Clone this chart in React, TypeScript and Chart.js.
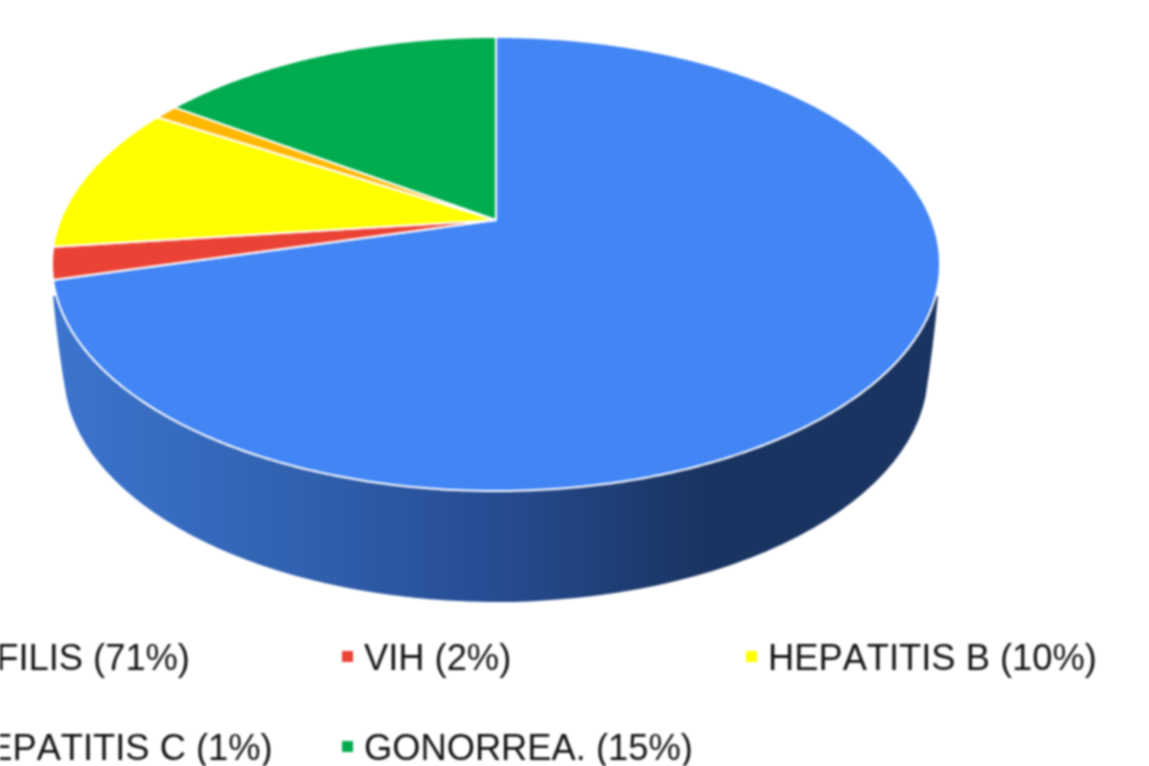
import React, { useEffect, useRef } from "react";
import { Chart, registerables } from "chart.js";

Chart.register(...registerables);

const categories = ["SÍFILIS (71%)", "VIH (2%)", "HEPATITIS B (10%)", "HEPATITIS C (1%)", "GONORREA. (15%)"];
const shares = [70.8, 2.3, 10.55, 1.05, 15.3];
const colors = ["#4285F4", "#EA4335", "#FFFF00", "#FFB700", "#00AC4E"];

const APEX_X = 496;
const APEX_Y = 220;
const SCALE_X = 435.6;
const SCALE_Y = 218.5;
const TILT = -0.1938;

const project = (a: number): [number, number] => {
  const u = Math.cos(a);
  const v = Math.sin(a);
  const d = 1 + TILT * v;
  return [APEX_X + (SCALE_X * u) / d, APEX_Y + (SCALE_Y * v) / d];
};

const tiltedPie = {
  id: "tiltedPie",
  beforeDatasetDraw() {
    return false;
  },
  afterDatasetsDraw(chart: any) {
    const ctx = chart.ctx as CanvasRenderingContext2D;
    ctx.save();

    // side wall
    const grad = ctx.createLinearGradient(60, 0, 930, 0);
    grad.addColorStop(0, "#3C74CE");
    grad.addColorStop(0.25, "#3263B2");
    grad.addColorStop(0.5, "#264C92");
    grad.addColorStop(0.74, "#1A3461");
    grad.addColorStop(1, "#1A3461");
    const lean = 0.11;
    ctx.beginPath();
    ctx.moveTo(938, 296);
    ctx.quadraticCurveTo(933, 350, 496 + 432 * Math.cos(lean), 372 + 230 * Math.sin(lean));
    ctx.ellipse(496, 372, 432, 230, 0, lean, Math.PI - lean);
    ctx.quadraticCurveTo(58, 350, 53, 296);
    ctx.closePath();
    ctx.fillStyle = grad;
    ctx.fill();

    // top face
    const arcs = chart.getDatasetMeta(0).data;
    arcs.forEach((arc: any, i: number) => {
      const start = arc.startAngle as number;
      const end = arc.endAngle as number;
      const steps = Math.max(2, Math.ceil((end - start) * 120));
      ctx.beginPath();
      ctx.moveTo(APEX_X, APEX_Y);
      for (let s = 0; s <= steps; s++) {
        const p = project(start + ((end - start) * s) / steps);
        ctx.lineTo(p[0], p[1]);
      }
      ctx.closePath();
      ctx.fillStyle = colors[i];
      ctx.fill();
      ctx.strokeStyle = "#FFFFFF";
      ctx.lineWidth = 2;
      ctx.lineJoin = "round";
      ctx.stroke();
    });

    // legend
    const columns = [-38, 364, 768];
    const rows = [670, 760];
    ctx.font = '36.3px "Liberation Sans"';
    (ctx as any).fontKerning = "none";
    ctx.textBaseline = "alphabetic";
    ctx.textAlign = "left";
    categories.forEach((label, i) => {
      const x = columns[i % 3];
      const y = rows[Math.floor(i / 3)];
      ctx.fillStyle = colors[i];
      ctx.fillRect(x - 22, y - 19, 11, 11);
      ctx.fillStyle = "#111111";
      ctx.fillText(label, x, y);
    });
    ctx.restore();
  },
};

export default function App() {
  const ref = useRef<HTMLCanvasElement | null>(null);
  useEffect(() => {
    document.body.style.overflow = "hidden";
    const chart = new Chart(ref.current as HTMLCanvasElement, {
      type: "pie",
      data: {
        labels: categories,
        datasets: [{ data: shares, backgroundColor: colors, borderColor: "#FFFFFF" }],
      },
      options: {
        responsive: false,
        animation: false,
        plugins: { legend: { display: false }, tooltip: { enabled: false } },
      },
      plugins: [tiltedPie],
    } as any);
    return () => chart.destroy();
  }, []);
  return (
    <div style={{ position: "fixed", left: 0, top: 0, width: 1149, height: 766, background: "#FFFFFF" }}>
      <canvas ref={ref} width={1149} height={766} style={{ display: "block", filter: "blur(0.8px)" }} />
    </div>
  );
}
